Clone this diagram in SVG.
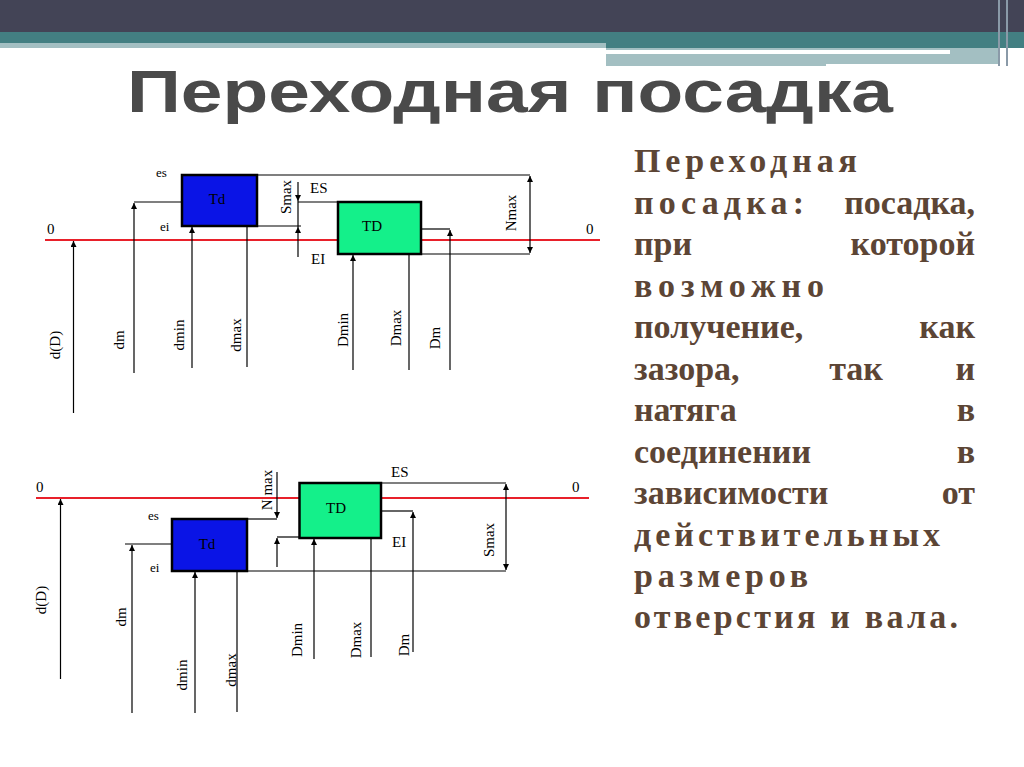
<svg xmlns="http://www.w3.org/2000/svg" width="1024" height="767" viewBox="0 0 1024 767">
<defs>
<marker id="ar" viewBox="0 0 8 8" refX="8" refY="4" markerWidth="5" markerHeight="5" orient="auto-start-reverse"><path d="M0,0L8,4L0,8z" fill="#000"/></marker>
<style>
.l{stroke:#000;stroke-width:1.2;fill:none}
.a{stroke:#000;stroke-width:1.2;fill:none;marker-end:url(#ar)}
.ab{stroke:#000;stroke-width:1.2;fill:none;marker-start:url(#ar);marker-end:url(#ar)}
.t{font-family:"Liberation Serif",serif;font-size:15px;fill:#000}
.z{stroke:#e8202a;stroke-width:2}
.bd{fill:#0a14e6;stroke:#000;stroke-width:2.5}
.gd{fill:#14f08a;stroke:#000;stroke-width:2.5}
.p{font-family:"Liberation Serif",serif;font-size:34px;font-weight:bold;fill:#5c4535}
</style>
</defs>
<rect width="1024" height="767" fill="#fff"/>
<g id="header">
<rect x="0" y="0" width="1024" height="32" fill="#434456"/>
<rect x="0" y="32" width="1024" height="16" fill="#437f82"/>
<rect x="0" y="43" width="606" height="5" fill="#a3bfc2"/>
<rect x="606" y="48" width="394" height="18" fill="#a3bfc2"/>
<rect x="606" y="50" width="344" height="4" fill="#fff"/>
<rect x="826" y="64" width="180" height="3" fill="#fff"/>
<rect x="998" y="0" width="2" height="66" fill="#8a9aa8"/>
<rect x="1006" y="0" width="2" height="66" fill="#8a9aa8"/>
</g>
<text id="title" x="127" y="112" textLength="766" lengthAdjust="spacingAndGlyphs" font-family="Liberation Sans,Arial,sans-serif" font-weight="bold" font-size="60" fill="#4a4a4a">Переходная посадка</text>
<g id="diagram1">
<line class="z" x1="45" y1="240" x2="600" y2="240"/>
<g class="t"><text x="47" y="234">0</text><text x="586" y="234">0</text>
<text x="156" y="177" font-size="13">es</text><text x="160" y="231" font-size="13">ei</text>
<text x="310" y="193">ES</text><text x="311" y="264">EI</text></g>
<g id="connectors1">
<polyline class="l" points="257,175 530,175"/>
<line class="ab" x1="530" y1="176" x2="530" y2="253"/>
<polyline class="l" points="421,254 530,254"/>
<polyline class="l" points="298,202 338,202"/>
<polyline class="l" points="257,226 301,226"/>
<line class="a" x1="298" y1="182" x2="298" y2="201"/>
<line class="a" x1="298" y1="257" x2="298" y2="227"/>
<line class="l" x1="298" y1="201" x2="298" y2="227"/>
<polyline class="l" points="134,202 182,202"/>
<line class="a" x1="134" y1="373" x2="134" y2="203"/>
<line class="a" x1="192" y1="368" x2="192" y2="227"/>
<line class="a" x1="247" y1="367" x2="247" y2="176"/>
<line class="a" x1="73.5" y1="413" x2="73.5" y2="241"/>
<line class="a" x1="353" y1="370" x2="353" y2="255"/>
<line class="a" x1="409" y1="370" x2="409" y2="203"/>
<polyline class="l" points="421,229 450,229"/>
<line class="a" x1="450" y1="370" x2="450" y2="230"/>
</g>
<g id="Td1"><rect class="bd" x="182" y="175" width="75" height="51"/><text class="t" x="217" y="204" text-anchor="middle" fill="#fff">Td</text></g>
<g id="TD1"><rect class="gd" x="338" y="202" width="83" height="52"/><text class="t" x="372" y="231" text-anchor="middle">TD</text></g>
<g class="t" text-anchor="middle">
<text transform="translate(291,197) rotate(-90)">Smax</text>
<text transform="translate(516,213) rotate(-90)">Nmax</text>
<text transform="translate(60,345) rotate(-90)">d(D)</text>
<text transform="translate(124,340) rotate(-90)">dm</text>
<text transform="translate(184,335) rotate(-90)">dmin</text>
<text transform="translate(241,335) rotate(-90)">dmax</text>
<text transform="translate(348,330) rotate(-90)">Dmin</text>
<text transform="translate(401,328) rotate(-90)">Dmax</text>
<text transform="translate(440,338) rotate(-90)">Dm</text>
</g>
</g>
<g id="diagram2">
<line class="z" x1="36" y1="498" x2="589" y2="498"/>
<g class="t"><text x="36" y="492">0</text><text x="572" y="492">0</text>
<text x="148" y="520" font-size="13">es</text><text x="150" y="572" font-size="13">ei</text>
<text x="391" y="477">ES</text><text x="392" y="547">EI</text></g>
<g id="connectors2">
<polyline class="l" points="381,483 506,483"/>
<line class="ab" x1="506" y1="484" x2="506" y2="570"/>
<polyline class="l" points="247,571 506,571"/>
<polyline class="l" points="381,511 413,511"/>
<line class="a" x1="413" y1="652" x2="413" y2="512"/>
<polyline class="l" points="247,519 277,519"/>
<line class="a" x1="277" y1="472" x2="277" y2="518"/>
<line class="a" x1="277" y1="567" x2="277" y2="538"/>
<polyline class="l" points="277,537 299,537"/>
<polyline class="l" points="125,544 172,544"/>
<line class="a" x1="132" y1="713" x2="132" y2="545"/>
<line class="a" x1="60.5" y1="679" x2="60.5" y2="499"/>
<line class="a" x1="195" y1="713" x2="195" y2="572"/>
<line class="a" x1="237" y1="712" x2="237" y2="520"/>
<line class="a" x1="314" y1="659" x2="314" y2="539"/>
<line class="a" x1="371" y1="657" x2="371" y2="484"/>
</g>
<g id="TD2"><rect class="gd" x="299.5" y="483" width="81.5" height="55"/><text class="t" x="336" y="513" text-anchor="middle">TD</text></g>
<g id="Td2"><rect class="bd" x="172" y="519" width="75" height="52"/><text class="t" x="207" y="549" text-anchor="middle" fill="#fff">Td</text></g>
<g class="t" text-anchor="middle">
<text transform="translate(272,490) rotate(-90)">N max</text>
<text transform="translate(494,540) rotate(-90)">Smax</text>
<text transform="translate(46,600) rotate(-90)">d(D)</text>
<text transform="translate(126,617) rotate(-90)">dm</text>
<text transform="translate(187,675) rotate(-90)">dmin</text>
<text transform="translate(236,670) rotate(-90)">dmax</text>
<text transform="translate(302,640) rotate(-90)">Dmin</text>
<text transform="translate(361,640) rotate(-90)">Dmax</text>
<text transform="translate(409,645) rotate(-90)">Dm</text>
</g>
</g>
<g id="definition" class="p">
<text x="634" y="172" textLength="223">Переходная</text>
<text x="634" y="214" textLength="170">посадка:</text><text x="975" y="214" text-anchor="end">посадка,</text>
<text x="634" y="255">при</text><text x="975" y="255" text-anchor="end">которой</text>
<text x="634" y="297" textLength="190">возможно</text>
<text x="634" y="338">получение,</text><text x="975" y="338" text-anchor="end">как</text>
<text x="634" y="380">зазора,</text><text x="856" y="380" text-anchor="middle">так</text><text x="975" y="380" text-anchor="end">и</text>
<text x="634" y="421">натяга</text><text x="975" y="421" text-anchor="end">в</text>
<text x="634" y="463">соединении</text><text x="975" y="463" text-anchor="end">в</text>
<text x="634" y="504">зависимости</text><text x="975" y="504" text-anchor="end">от</text>
<text x="634" y="546" textLength="306">действительных</text>
<text x="634" y="587" textLength="174">размеров</text>
<text x="634" y="628" textLength="324">отверстия и вала.</text>
</g>
</svg>
